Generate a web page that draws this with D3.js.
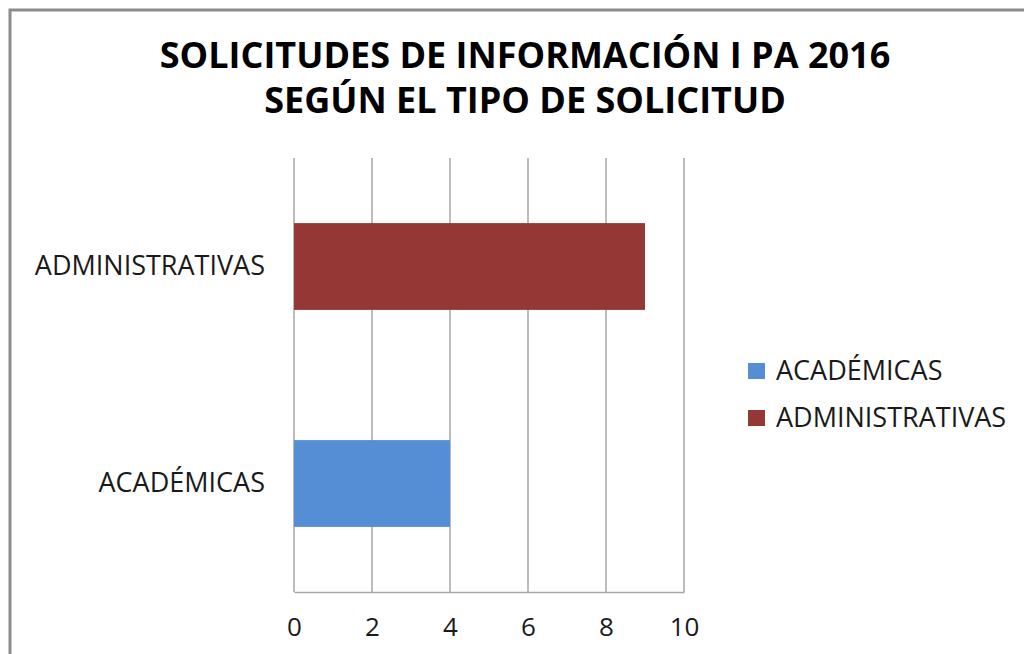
<!DOCTYPE html>
<html>
<head>
<meta charset="utf-8">
<script src="https://cdn.jsdelivr.net/npm/d3@7"></script>
<style>
  html, body { margin: 0; padding: 0; background: #fff; }
  svg { display: block; font-family: "Open Sans", sans-serif; }
</style>
</head>
<body>
<div id="chart"></div>
<script>
  // Solicitudes de información I PA 2016, según el tipo de solicitud
  const categories = ["ADMINISTRATIVAS", "ACADÉMICAS"];
  const values = [9, 4];
  const colors = ["#953735", "#558ED5"];
  const legendItems = ["ACADÉMICAS", "ADMINISTRATIVAS"];
  const legendColors = ["#558ED5", "#953735"];
  const xTicks = [0, 2, 4, 6, 8, 10];
  const titleLines = ["SOLICITUDES DE INFORMACIÓN I PA 2016", "SEGÚN EL TIPO DE SOLICITUD"];

  const W = 1024, H = 654;
  const margin = { top: 158, left: 294, right: 340, bottom: 62 };

  const svg = d3.select("#chart").append("svg")
    .attr("width", W)
    .attr("height", H);

  // outer chart frame
  svg.append("rect")
    .attr("x", 10).attr("y", 10)
    .attr("width", W + 20).attr("height", H + 20)
    .attr("fill", "none")
    .attr("stroke", "#8c8c8c")
    .attr("stroke-width", 3);

  // title
  svg.append("g").selectAll("text")
    .data(titleLines)
    .join("text")
    .attr("x", 525)
    .attr("y", (d, i) => 68 + i * 45)
    .attr("text-anchor", "middle")
    .attr("font-size", 36)
    .attr("font-weight", 700)
    .attr("fill", "#000")
    .text(d => d);

  const x = d3.scaleLinear()
    .domain([0, 10])
    .range([margin.left, W - margin.right]);

  const y = d3.scaleBand()
    .domain(categories)
    .range([margin.top, H - margin.bottom])
    .paddingInner(0.6)
    .paddingOuter(0.3);

  // vertical gridlines
  svg.append("g").selectAll("line")
    .data(xTicks)
    .join("line")
    .attr("x1", d => x(d)).attr("x2", d => x(d))
    .attr("y1", margin.top).attr("y2", H - margin.bottom)
    .attr("stroke", "#a6a6a6")
    .attr("stroke-width", 1.5);

  // bottom axis
  const xAxis = svg.append("g")
    .attr("transform", `translate(0,${H - margin.bottom})`)
    .call(d3.axisBottom(x).tickValues(xTicks).tickSize(0).tickPadding(26));
  xAxis.select(".domain").attr("stroke", "#a6a6a6").attr("stroke-width", 1.5);
  xAxis.selectAll("text")
    .attr("font-size", 26)
    .attr("font-family", "Open Sans, sans-serif")
    .attr("fill", "#1a1a1a");

  // bars
  svg.append("g").selectAll("rect")
    .data(categories)
    .join("rect")
    .attr("x", x(0))
    .attr("y", d => y(d))
    .attr("width", (d, i) => x(values[i]) - x(0))
    .attr("height", y.bandwidth())
    .attr("fill", (d, i) => colors[i]);

  // category labels
  const yAxis = svg.append("g")
    .attr("transform", `translate(${margin.left},0)`)
    .call(d3.axisLeft(y).tickSize(0).tickPadding(29));
  yAxis.select(".domain").remove();
  yAxis.selectAll("text")
    .attr("font-size", 27)
    .attr("font-family", "Open Sans, sans-serif")
    .attr("fill", "#1a1a1a");

  // legend
  const legend = svg.append("g")
    .attr("transform", "translate(748,363)");
  const li = legend.selectAll("g")
    .data(legendItems)
    .join("g")
    .attr("transform", (d, i) => `translate(0,${i * 47})`);
  li.append("rect")
    .attr("width", 17).attr("height", 16)
    .attr("fill", (d, i) => legendColors[i]);
  li.append("text")
    .attr("x", 28)
    .attr("y", 8)
    .attr("dy", "0.35em")
    .attr("font-size", 27)
    .attr("fill", "#1a1a1a")
    .text(d => d);
</script>
</body>
</html>
